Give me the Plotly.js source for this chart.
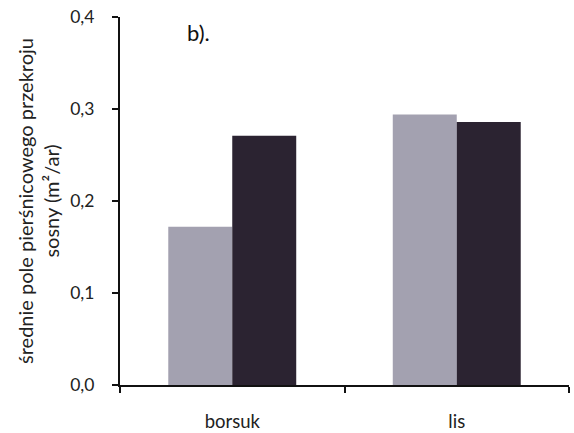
<!DOCTYPE html>
<html>
<head>
<meta charset="utf-8">
<script src="https://cdn.plot.ly/plotly-3.0.1.min.js"></script>
<style>html,body{margin:0;padding:0;background:#fff;}#chart{width:574px;height:433px;}</style>
</head>
<body>
<div id="chart"></div>
<script>
const categories = ["borsuk", "lis"];
const seriesA = [0.172, 0.294];
const seriesB = [0.271, 0.286];
const yTickVals = [0, 0.1, 0.2, 0.3, 0.4];
const yTickText = ["0,0", "0,1", "0,2", "0,3", "0,4"];

const font = "Lato, 'Open Sans', sans-serif";
const data = [
  {type: "bar", x: categories, y: seriesA, marker: {color: "#a3a1b0"}, showlegend: false, hoverinfo: "none"},
  {type: "bar", x: categories, y: seriesB, marker: {color: "#2b2331"}, showlegend: false, hoverinfo: "none"}
];
const layout = {
  width: 574, height: 433,
  margin: {l: 120, r: 5, t: 17, b: 48},
  paper_bgcolor: "#fff", plot_bgcolor: "#fff",
  barmode: "group", bargap: 0.43, bargroupgap: 0,
  font: {family: font, size: 17, color: "#222"},
  xaxis: {
    showline: true, linecolor: "#111", linewidth: 2,
    ticks: "outside", tickson: "boundaries", ticklen: 6, tickwidth: 2, tickcolor: "#111",
    ticklabelstandoff: 19,
    tickfont: {size: 18.5, family: font, color: "#222"},
    showgrid: false, zeroline: false
  },
  yaxis: {
    range: [0, 0.4], showline: true, linecolor: "#111", linewidth: 2,
    ticks: "outside", ticklen: 6, tickwidth: 2, tickcolor: "#111",
    ticklabelstandoff: 14,
    tickvals: yTickVals, ticktext: yTickText,
    tickfont: {size: 17.5, family: font, color: "#222"},
    showgrid: false, zeroline: false,
    title: {text: "średnie pole pierśnicowego przekroju<br>sosny (m²/ar)", font: {size: 20, family: font, color: "#222"}, standoff: 5}
  },
  annotations: [
    {text: "b).", xref: "paper", yref: "paper", x: 0.174, y: 0.957, xanchor: "center", yanchor: "middle", showarrow: false, font: {size: 22, family: font, color: "#111"}}
  ]
};
Plotly.newPlot("chart", data, layout, {staticPlot: true});
</script>
</body>
</html>
